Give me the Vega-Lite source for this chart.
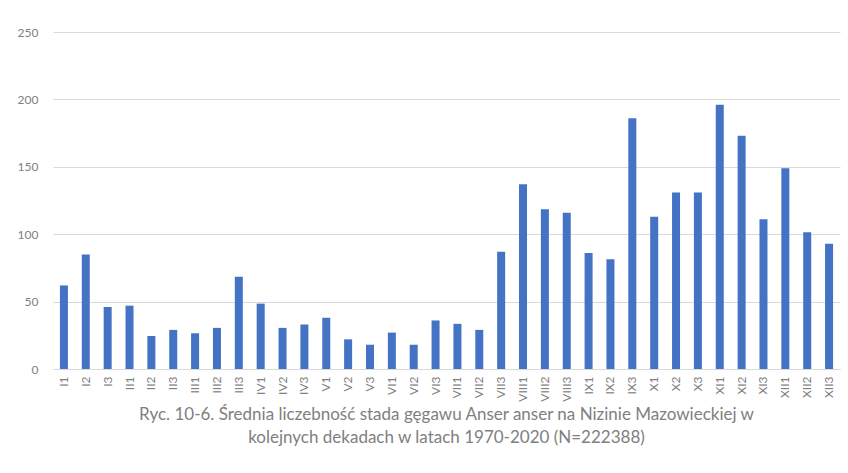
{
  "$schema": "https://vega.github.io/schema/vega-lite/v6.json",
  "width": 787,
  "height": 337,
  "autosize": {"type": "none"},
  "padding": {"left": 53, "top": 32, "right": 8, "bottom": 104},
  "background": "white",
  "title": {
    "text": ["Ryc. 10-6. Średnia liczebność stada gęgawu Anser anser na Nizinie Mazowieckiej w", "kolejnych dekadach w latach 1970-2020 (N=222388)"],
    "orient": "bottom",
    "anchor": "middle",
    "font": "Lato",
    "fontSize": 17,
    "fontWeight": "normal",
    "color": "#808080",
    "lineHeight": 23,
    "offset": 6
  },
  "data": {
    "values": [
      {"d": "I1", "v": 62}, {"d": "I2", "v": 85}, {"d": "I3", "v": 46},
      {"d": "II1", "v": 47}, {"d": "II2", "v": 24.5}, {"d": "II3", "v": 29},
      {"d": "III1", "v": 26.5}, {"d": "III2", "v": 30.5}, {"d": "III3", "v": 68.5},
      {"d": "IV1", "v": 48.5}, {"d": "IV2", "v": 30.5}, {"d": "IV3", "v": 33},
      {"d": "V1", "v": 38}, {"d": "V2", "v": 22}, {"d": "V3", "v": 18},
      {"d": "VI1", "v": 27}, {"d": "VI2", "v": 18}, {"d": "VI3", "v": 36},
      {"d": "VII1", "v": 33.5}, {"d": "VII2", "v": 29}, {"d": "VII3", "v": 87},
      {"d": "VIII1", "v": 137}, {"d": "VIII2", "v": 118.5}, {"d": "VIII3", "v": 116},
      {"d": "IX1", "v": 86}, {"d": "IX2", "v": 81.5}, {"d": "IX3", "v": 186},
      {"d": "X1", "v": 113}, {"d": "X2", "v": 131}, {"d": "X3", "v": 131},
      {"d": "XI1", "v": 196}, {"d": "XI2", "v": 173}, {"d": "XI3", "v": 111},
      {"d": "XII1", "v": 149}, {"d": "XII2", "v": 101.5}, {"d": "XII3", "v": 93}
    ]
  },
  "mark": {"type": "bar", "color": "#4472c4", "width": 8},
  "encoding": {
    "x": {
      "field": "d",
      "type": "nominal",
      "sort": null,
      "scale": {"paddingInner": 0, "paddingOuter": 0},
      "axis": {
        "title": null,
        "labelAngle": -90,
        "labelFont": "Lato",
        "labelFontSize": 12,
        "labelColor": "#808080",
        "labelPadding": 7,
        "ticks": false,
        "domainColor": "#d9d9d9",
        "grid": false
      }
    },
    "y": {
      "field": "v",
      "type": "quantitative",
      "scale": {"domain": [0, 250], "nice": false},
      "axis": {
        "title": null,
        "values": [0, 50, 100, 150, 200, 250],
        "labelFont": "Lato",
        "labelFontSize": 12,
        "labelColor": "#808080",
        "labelPadding": 15,
        "ticks": false,
        "domain": false,
        "gridColor": "#d9d9d9"
      }
    }
  },
  "config": {"view": {"stroke": null}}
}
